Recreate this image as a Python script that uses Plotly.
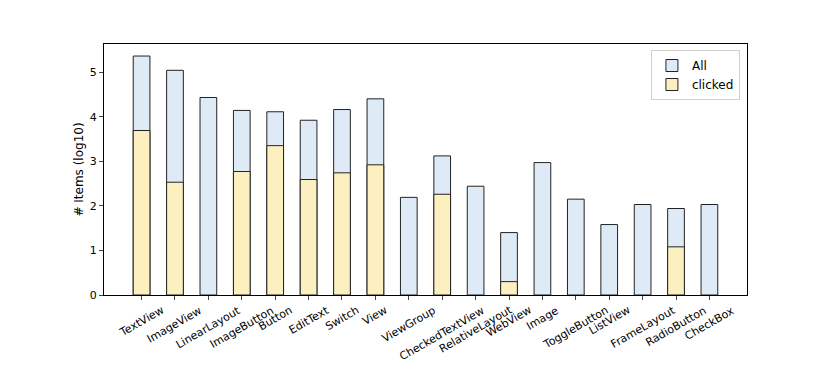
import plotly.graph_objects as go

# widget types and log10 counts
widgets = ["TextView", "ImageView", "LinearLayout", "ImageButton", "Button",
           "EditText", "Switch", "View", "ViewGroup", "CheckedTextView",
           "RelativeLayout", "WebView", "Image", "ToggleButton", "ListView",
           "FrameLayout", "RadioButton", "CheckBox"]
all_items = [5.36, 5.04, 4.43, 4.14, 4.11, 3.92, 4.16, 4.40, 2.19, 3.12,
             2.44, 1.40, 2.97, 2.15, 1.58, 2.03, 1.94, 2.03]
# None = no clicked items for that widget
clicked_items = [3.69, 2.53, None, 2.77, 3.35, 2.59, 2.74, 2.92, None, 2.26,
                 None, 0.30, None, None, None, None, 1.08, None]

xpos = list(range(len(widgets)))

fig = go.Figure()
fig.add_trace(go.Bar(x=xpos, y=all_items, name="All", width=0.5,
                     marker=dict(color="#deebf7", line=dict(color="#222222", width=1))))
fig.add_trace(go.Bar(x=xpos, y=clicked_items, name="clicked", width=0.5,
                     marker=dict(color="#fdf0c0", line=dict(color="#222222", width=1))))

# matplotlib-style labels: rotated 30 deg but centred under the tick
for i, name in zip(xpos, widgets):
    fig.add_annotation(x=i, y=0, xref="x", yref="paper", text=name,
                       showarrow=False, textangle=-30, xanchor="center",
                       yanchor="top", yshift=-6, font=dict(size=11))

# the page body adds an 8px offset, so margins are shifted to compensate
fig.update_layout(
    width=830, height=369,
    barmode="overlay",
    plot_bgcolor="white", paper_bgcolor="white",
    margin=dict(l=96, r=91, t=36, b=82),
    font=dict(family="DejaVu Sans", size=11, color="black"),
    showlegend=True,
    legend=dict(x=0.989, y=0.976, xanchor="right", yanchor="top",
                bordercolor="#d0d0d0", borderwidth=1, bgcolor="white",
                font=dict(size=12)),
)
fig.update_xaxes(range=[-1.125, 18.125], tickmode="array", tickvals=xpos,
                 showticklabels=False, ticks="outside", ticklen=4,
                 showline=True, linecolor="black", linewidth=1.2, mirror=True,
                 showgrid=False, zeroline=False, automargin=False)
fig.update_yaxes(range=[0, 5.63], dtick=1, ticks="outside", ticklen=4,
                 showline=True, linecolor="black", linewidth=1.2, mirror=True,
                 showgrid=False, zeroline=False, automargin=False,
                 title=dict(text="# Items (log10)", font=dict(size=12), standoff=3))

fig.write_html("out.html")
